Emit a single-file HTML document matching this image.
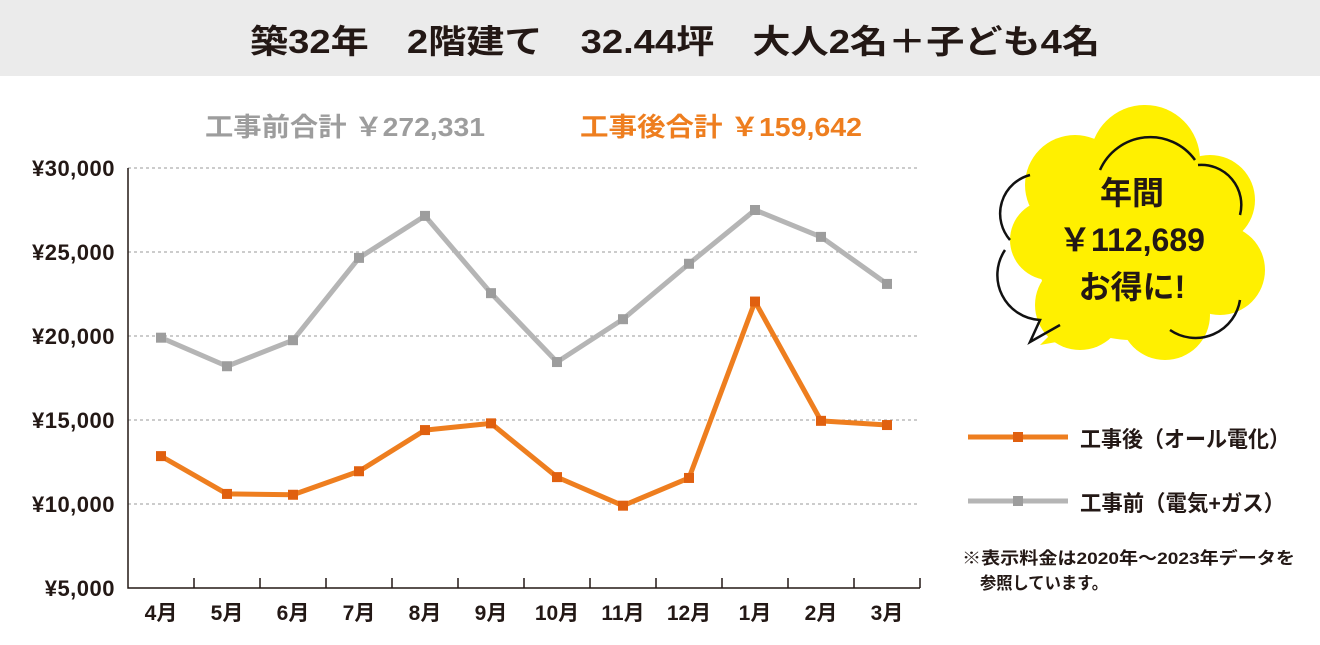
<!DOCTYPE html>
<html><head><meta charset="utf-8"><style>
body{margin:0;width:1320px;height:645px;background:#fff;font-family:"Liberation Sans","Noto Sans CJK JP",sans-serif;overflow:hidden}
svg{position:absolute;left:0;top:0}
text{font-family:"Liberation Sans","Noto Sans CJK JP",sans-serif;font-weight:bold}
</style></head><body>
<svg id="chart" width="1320" height="645">
<rect x="0" y="0" width="1320" height="76" fill="#ebebeb"/>
<text x="250" y="53" font-size="33" textLength="850" lengthAdjust="spacingAndGlyphs" fill="#231815">築32年　2階建て　32.44坪　大人2名＋子ども4名</text>
<text x="205" y="136" font-size="26" textLength="280" lengthAdjust="spacingAndGlyphs" fill="#9d9d9d">工事前合計 ￥272,331</text>
<text x="580" y="136" font-size="26" textLength="282" lengthAdjust="spacingAndGlyphs" fill="#ee7e1f">工事後合計 ￥159,642</text>
<g id="grid"></g><g id="axes"></g><g id="series"></g>
<g>
<g fill="#fff000">
<circle cx="1130" cy="245" r="95"/><circle cx="1075" cy="185" r="50"/><circle cx="1145" cy="160" r="55"/><circle cx="1210" cy="200" r="45"/><circle cx="1220" cy="270" r="45"/><circle cx="1165" cy="315" r="45"/><circle cx="1080" cy="305" r="45"/><circle cx="1050" cy="240" r="40"/>
<polygon points="1040,345 1075,310 1095,335"/>
</g>
<path d="M1030,175 A40,40 0 0 0 1010,240 M1005,250 A45,45 0 0 0 1040,320 L1030,342 L1060,325 M1170,330 A45,45 0 0 0 1240,300 M1100,170 A55,55 0 0 1 1195,160 M1198,165 A40,40 0 0 1 1240,215" fill="none" stroke="#111" stroke-width="2.5"/>
<text x="1132" y="204" text-anchor="middle" font-size="32" fill="#231815">年間</text>
<text x="1132" y="251" text-anchor="middle" font-size="32" fill="#231815">￥112,689</text>
<text x="1132" y="298" text-anchor="middle" font-size="32" fill="#231815">お得に!</text>
</g>
<g><line x1="968" y1="437" x2="1068" y2="437" stroke="#ee7e1f" stroke-width="5"/><rect x="1013" y="432" width="10" height="10" fill="#e0600f"/><text x="1080" y="447" font-size="22" textLength="210" lengthAdjust="spacingAndGlyphs" fill="#231815">工事後（オール電化）</text></g>
<g><line x1="968" y1="501" x2="1068" y2="501" stroke="#b5b5b5" stroke-width="5"/><rect x="1013" y="496" width="10" height="10" fill="#9d9d9d"/><text x="1080" y="511" font-size="22" textLength="205" lengthAdjust="spacingAndGlyphs" fill="#231815">工事前（電気+ガス）</text></g>
<text x="962" y="564" font-size="17" textLength="333" lengthAdjust="spacingAndGlyphs" fill="#231815">※表示料金は2020年～2023年データを</text>
<text x="980" y="589" font-size="17" textLength="128" lengthAdjust="spacingAndGlyphs" fill="#231815">参照しています。</text>
</svg>
<script>
const months=["4月","5月","6月","7月","8月","9月","10月","11月","12月","1月","2月","3月"];
const before=[19900,18200,19750,24650,27150,22550,18450,21000,24300,27500,25900,23100];
const after=[12850,10600,10550,11950,14400,14800,11600,9900,11550,22050,14950,14700];
const yTicks=[5000,10000,15000,20000,25000,30000];
const yLabels=["¥5,000","¥10,000","¥15,000","¥20,000","¥25,000","¥30,000"];
const X0=128,X1=920,Y0=588,Y1=168,YMIN=5000,YMAX=30000;
const bw=(X1-X0)/months.length;
const x=i=>X0+bw*(i+0.5);
const y=v=>Y0-(v-YMIN)/(YMAX-YMIN)*(Y0-Y1);
const NS="http://www.w3.org/2000/svg";
function mk(tag,attrs,parent){const e=document.createElementNS(NS,tag);for(const k in attrs)e.setAttribute(k,attrs[k]);parent.appendChild(e);return e;}
const grid=document.getElementById('grid'),axes=document.getElementById('axes'),series=document.getElementById('series');
yTicks.forEach((t,i)=>{
 if(t>YMIN){const l=mk('line',{x1:X0,x2:X1,y1:y(t),y2:y(t),stroke:'#999','stroke-width':1,'stroke-dasharray':'3,3'},grid);
 
 }
 const tx=mk('text',{x:115,y:y(t)+8,'text-anchor':'end','font-size':22,'letter-spacing':'0.5',fill:'#231815'},axes);tx.textContent=yLabels[i];
 
 
});
const ax=mk('path',{d:`M${X0},${Y1} L${X0},${Y0} L${X1},${Y0}`,fill:'none',stroke:'#231815','stroke-width':1.5},axes);


months.forEach((m,i)=>{
 const tk=mk('line',{x1:X0+bw*(i+1),x2:X0+bw*(i+1),y1:Y0,y2:Y0-10,stroke:'#231815','stroke-width':1.5},axes);
 
 
 const t=mk('text',{x:x(i),y:620,'text-anchor':'middle','font-size':21,fill:'#231815'},axes);t.textContent=m;
 
 
});
function draw(vals,line,mark,name){
 const p=mk('polyline',{points:vals.map((v,i)=>x(i)+','+y(v)).join(' '),fill:'none',stroke:line,'stroke-width':5,'stroke-linejoin':'round'},series);
 
 
 vals.forEach((v,i)=>{const r=mk('rect',{x:x(i)-5,y:y(v)-5,width:10,height:10,fill:mark},series);
 
 });
}
draw(before,'#b5b5b5','#9d9d9d','before');
draw(after,'#ee7e1f','#e0600f','after');
</script>
</body></html>
